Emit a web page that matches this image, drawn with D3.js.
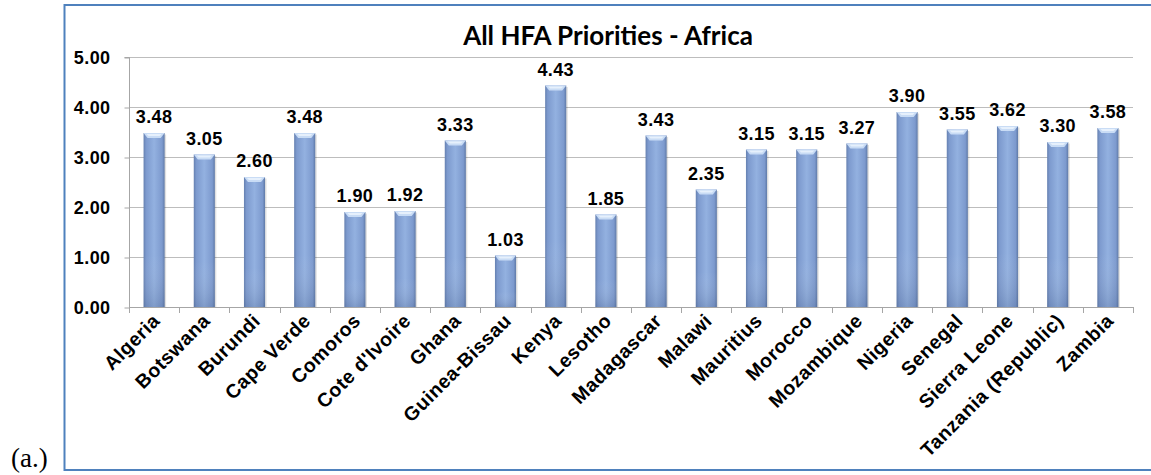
<!DOCTYPE html>
<html><head><meta charset="utf-8">
<script src="https://cdn.jsdelivr.net/npm/d3@7"></script>
<style>body{margin:0;background:#fff}svg{display:block}</style>
</head><body>
<svg id="c" width="1151" height="475"></svg>
<script>
const categories = ["Algeria","Botswana","Burundi","Cape Verde","Comoros","Cote d'Ivoire","Ghana","Guinea-Bissau","Kenya","Lesotho","Madagascar","Malawi","Mauritius","Morocco","Mozambique","Nigeria","Senegal","Sierra Leone","Tanzania (Republic)","Zambia"];
const values = [3.48,3.05,2.60,3.48,1.90,1.92,3.33,1.03,4.43,1.85,3.43,2.35,3.15,3.15,3.27,3.90,3.55,3.62,3.30,3.58];
const yTicks = [0,1,2,3,4,5];
const title = "All HFA Priorities - Africa";

const svg = d3.select("#c");
const plot = {left:129, right:1133, top:57, bottom:307};

const x = d3.scaleBand().domain(categories).range([plot.left, plot.right]).padding(0);
const y = d3.scaleLinear().domain([0,5]).range([plot.bottom, plot.top]);

const defs = svg.append("defs");
const g1 = defs.append("linearGradient").attr("id","barg").attr("x1","0").attr("x2","1").attr("y1","0").attr("y2","0");
g1.append("stop").attr("offset","0").attr("stop-color","#6580b0");
g1.append("stop").attr("offset","0.12").attr("stop-color","#7d9ace");
g1.append("stop").attr("offset","0.5").attr("stop-color","#93b1e0");
g1.append("stop").attr("offset","0.88").attr("stop-color","#7d9ace");
g1.append("stop").attr("offset","1").attr("stop-color","#5f7aa8");
const g2 = defs.append("linearGradient").attr("id","barv").attr("x1","0").attr("x2","0").attr("y1","0").attr("y2","1");
g2.append("stop").attr("offset","0").attr("stop-color","#ffffff").attr("stop-opacity","0");
g2.append("stop").attr("offset","0.7").attr("stop-color","#ffffff").attr("stop-opacity","0");
g2.append("stop").attr("offset","1").attr("stop-color","#2a3f66").attr("stop-opacity","0.18");

const font = "Arial, 'Liberation Sans', sans-serif";

// frame
svg.append("rect").attr("x",64.5).attr("y",5).attr("width",1100).attr("height",465)
  .attr("fill","none").attr("stroke","#4f81bd").attr("stroke-width",2);

// gridlines
svg.append("g").selectAll("line").data(yTicks.filter(d=>d>0)).join("line")
  .attr("x1",plot.left).attr("x2",plot.right)
  .attr("y1",d=>Math.round(y(d))+0.5).attr("y2",d=>Math.round(y(d))+0.5)
  .attr("stroke","#bdbdbd").attr("stroke-width",1);

// y axis
const yAxis = d3.axisLeft(y).tickValues(yTicks).tickFormat(d3.format(".2f")).tickSize(5).tickPadding(14);
const ya = svg.append("g").attr("transform",`translate(${plot.left+0.5},0.5)`).call(yAxis);
ya.select(".domain").attr("stroke","#a6a6a6").attr("d",`M-5,${y(5)}H0V${y(0)}`);
ya.selectAll(".tick line").attr("stroke","#a6a6a6");
ya.selectAll("text").attr("font-family",font).attr("font-weight","bold")
  .attr("font-size","18px").attr("letter-spacing","0.4px").attr("fill","#000");

// x axis line and ticks at band boundaries
svg.append("line").attr("x1",plot.left).attr("x2",plot.right).attr("y1",plot.bottom+0.5).attr("y2",plot.bottom+0.5)
  .attr("stroke","#a6a6a6");
const bounds = categories.map(c=>x(c)).concat([plot.right]);
svg.append("g").selectAll("line").data(bounds).join("line")
  .attr("x1",d=>Math.round(d)+0.5).attr("x2",d=>Math.round(d)+0.5)
  .attr("y1",plot.bottom).attr("y2",plot.bottom+6).attr("stroke","#a6a6a6");

// bars
const bw = x.bandwidth()*0.42;
const bars = svg.append("g").selectAll("g").data(categories).join("g");
bars.append("rect").attr("x",d=>x(d)+x.bandwidth()/2-bw/2+1.5).attr("y",(d,i)=>y(values[i])+1.5)
  .attr("width",bw).attr("height",(d,i)=>y(0)-y(values[i])-1.5).attr("fill","#000").attr("opacity",0.12);
bars.append("rect").attr("x",d=>x(d)+x.bandwidth()/2-bw/2).attr("y",(d,i)=>y(values[i]))
  .attr("width",bw).attr("height",(d,i)=>y(0)-y(values[i])).attr("fill","url(#barg)");
bars.append("rect").attr("x",d=>x(d)+x.bandwidth()/2-bw/2).attr("y",(d,i)=>y(values[i]))
  .attr("width",bw).attr("height",(d,i)=>y(0)-y(values[i])).attr("fill","url(#barv)");
// bevel top
bars.append("path").attr("d",(d,i)=>{
  const x0 = x(d)+x.bandwidth()/2-bw/2, x1 = x0+bw, t = y(values[i]);
  return `M${x0},${t}L${x1},${t}L${x1-4},${t+5}L${x0+4},${t+5}Z`;
}).attr("fill","#c9dcf5");
bars.append("path").attr("d",(d,i)=>{
  const x0 = x(d)+x.bandwidth()/2-bw/2, x1 = x0+bw, t = y(values[i]);
  return `M${x0+3},${t+1}L${x1-3},${t+1}L${x1-5},${t+3}L${x0+5},${t+3}Z`;
}).attr("fill","#e6f0fc");

// value labels
svg.append("g").selectAll("text").data(categories).join("text")
  .attr("x",d=>x(d)+x.bandwidth()/2).attr("y",(d,i)=>y(values[i])-10)
  .attr("text-anchor","middle").attr("font-family",font)
  .attr("font-weight","bold").attr("font-size","18px").attr("letter-spacing","0.4px").attr("fill","#000")
  .text((d,i)=>values[i].toFixed(2));

// category labels
svg.append("g").selectAll("text").data(categories).join("text")
  .attr("transform",d=>`translate(${x(d)+x.bandwidth()/2+7},${plot.bottom+15}) rotate(-45)`)
  .attr("text-anchor","end").attr("font-family",font)
  .attr("font-weight","bold").attr("font-size","19.5px").attr("letter-spacing","0.5px").attr("fill","#000")
  .text(d=>d);

// title
svg.append("text").attr("x",608).attr("y",45).attr("text-anchor","middle")
  .attr("font-family","Lato, 'Open Sans', sans-serif").attr("font-weight","bold")
  .attr("font-size","26px").attr("fill","#000").text(title);

// (a.)
svg.append("text").attr("x",11).attr("y",467).attr("font-family","'Liberation Serif', 'Times New Roman', serif")
  .attr("font-size","27px").attr("fill","#000").text("(a.)");
</script>
</body></html>
